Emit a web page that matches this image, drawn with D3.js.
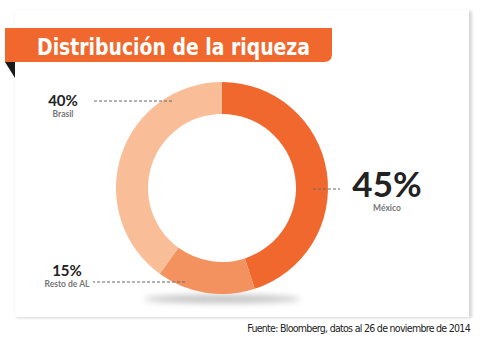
<!DOCTYPE html>
<html>
<head>
<meta charset="utf-8">
<script src="https://cdn.jsdelivr.net/npm/d3@7"></script>
<style>
  body { margin: 0; background: #fff; }
  svg { display: block; }
</style>
</head>
<body>
<svg id="chart" width="480" height="345"></svg>
<script>
const categories = ["México", "Resto de AL", "Brasil"];
const values = [45, 15, 40];
const pctLabels = ["45%", "15%", "40%"];
const colors = ["#f0682d", "#f4925f", "#f9bd98"];

const svg = d3.select("#chart");
const defs = svg.append("defs");

const blur = defs.append("filter").attr("id", "blur").attr("x", "-20%").attr("y", "-100%").attr("width", "140%").attr("height", "300%");
blur.append("feGaussianBlur").attr("stdDeviation", 3);
const blur2 = defs.append("filter").attr("id", "blur2").attr("x", "-5%").attr("y", "-5%").attr("width", "110%").attr("height", "110%");
blur2.append("feGaussianBlur").attr("stdDeviation", 1.5);

// card with shadow
svg.append("rect").attr("x", 16).attr("y", 11).attr("width", 456).attr("height", 307)
  .attr("fill", "#000").attr("opacity", 0.16).attr("filter", "url(#blur2)");
svg.append("rect").attr("x", 15).attr("y", 10).attr("width", 454).attr("height", 307).attr("fill", "#fff");

// title banner
svg.append("path").attr("d", "M5,28 H332 V54 Q332,62 324,62 H5 Z").attr("fill", "#f0682d");
svg.append("path").attr("d", "M5,62 H15 V78 Z").attr("fill", "#1a1a1a");
svg.append("text").attr("x", 37).attr("y", 55)
  .attr("font-family", "DejaVu Sans Condensed, DejaVu Sans").attr("font-weight", "bold")
  .attr("font-size", 23).attr("fill", "#fff")
  .attr("textLength", 273).attr("lengthAdjust", "spacingAndGlyphs")
  .text("Distribución de la riqueza");

// donut
const cx = 222, cy = 188, rOut = 106, rIn = 74;
svg.append("ellipse").attr("cx", cx).attr("cy", cy + rOut + 5).attr("rx", 78).attr("ry", 4)
  .attr("fill", "#999").attr("opacity", 0.6).attr("filter", "url(#blur)");

const pie = d3.pie().sort(null).value(d => d);
const arc = d3.arc().innerRadius(rIn).outerRadius(rOut);
const g = svg.append("g").attr("transform", `translate(${cx},${cy})`);
g.selectAll("path").data(pie(values)).join("path")
  .attr("d", arc).attr("fill", (d, i) => colors[i]);

// label placement per category (relative to the donut centre for leader lines)
const labelPos = [
  { ly: 1, x1: 91, x2: 118, tx: 387, ty: 197, ny: 211, fs: 35 },
  { ly: 94, x1: -37, x2: -129, tx: 67, ty: 276, ny: 287, fs: 15 },
  { ly: -87, x1: -50, x2: -129, tx: 63, ty: 106, ny: 117, fs: 15 }
];

categories.forEach((c, i) => {
  const p = labelPos[i];
  svg.append("line")
    .attr("x1", cx + p.x1).attr("x2", cx + p.x2)
    .attr("y1", cy + p.ly).attr("y2", cy + p.ly)
    .attr("stroke", "#666").attr("stroke-width", 1).attr("stroke-dasharray", "3,2");
  svg.append("text").attr("x", p.tx).attr("y", p.ty).attr("text-anchor", "middle")
    .attr("font-family", "Lato, Open Sans, sans-serif").attr("font-weight", "bold")
    .attr("font-size", p.fs).attr("fill", "#222").text(pctLabels[i]);
  svg.append("text").attr("x", p.tx).attr("y", p.ny).attr("text-anchor", "middle")
    .attr("font-family", "Lato, Open Sans, sans-serif").attr("font-weight", "bold")
    .attr("font-size", 8.5).attr("fill", "#777").text(c);
});

// source
svg.append("text").attr("x", 470).attr("y", 332).attr("text-anchor", "end")
  .attr("font-family", "Liberation Sans Narrow, DejaVu Sans Condensed").attr("font-size", 10.5)
  .attr("fill", "#222").attr("letter-spacing", -0.7)
  .text("Fuente: Bloomberg, datos al 26 de noviembre de 2014");
</script>
</body>
</html>
